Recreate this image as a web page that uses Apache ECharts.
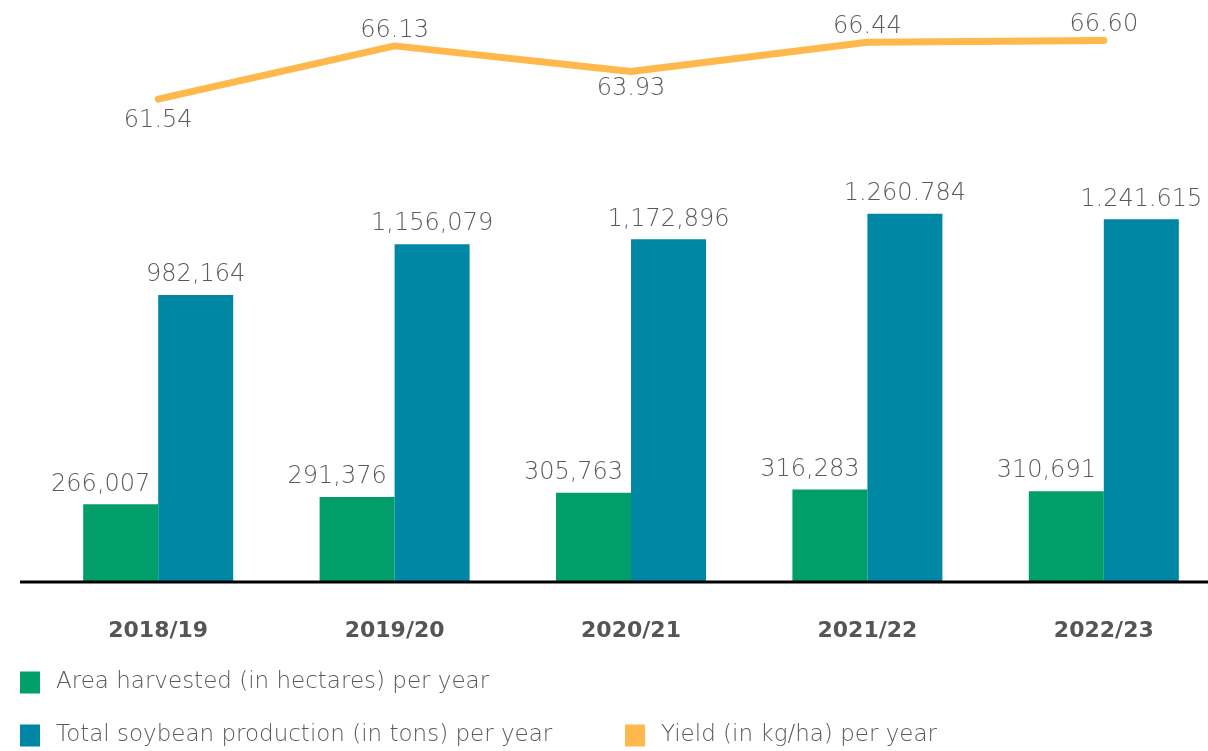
<!DOCTYPE html>
<html>
<head>
<meta charset="utf-8">
<script src="https://cdn.jsdelivr.net/npm/echarts@6/dist/echarts.min.js"></script>
<style>
  html, body { margin: 0; padding: 0; background: #fff; overflow: hidden; width: 1208px; height: 751px; }
  #chart { width: 1240px; height: 751px; }
</style>
</head>
<body>
<div id="chart"></div>
<script>
// data
var seasons = ['2018/19', '2019/20', '2020/21', '2021/22', '2022/23'];
var areaHarvested = [266007, 291376, 305763, 316283, 310691];
var areaText = ['266,007', '291,376', '305,763', '316,283', '310,691'];
var production = [982164, 1156079, 1172896, 1260784, 1241615];
var productionText = ['982,164', '1,156,079', '1,172,896', '1.260.784', '1.241.615'];
var yieldKgHa = [61.54, 66.13, 63.93, 66.44, 66.60];

var green = '#029e69';
var blue = '#0087a5';
var orange = '#ffb84c';
var font = 'DejaVu Sans';
var labelGray = '#5a5a5a';

var myChart = echarts.init(document.getElementById('chart'));

function legendAt(left, top, name) {
    return {
        left: left, top: top, itemWidth: 20, itemHeight: 22, padding: 0,
        icon: 'rect', data: [name], selectedMode: false,
        textStyle: { fontSize: 23, color: labelGray, fontWeight: 300, fontFamily: font, padding: [0, 0, 0, 11] }
    };
}

myChart.setOption({
    animation: false,
    textStyle: { fontFamily: font },
    grid: [
        { left: 40, width: 1182, top: 1, height: 116, outerBoundsMode: 'none' },   // yield line
        { left: 40, width: 1182, top: 173, height: 409, outerBoundsMode: 'none' }  // bars
    ],
    xAxis: [
        { type: 'category', gridIndex: 0, data: seasons, show: false },
        {
            type: 'category', gridIndex: 1, data: seasons,
            axisLine: { show: false },
            axisTick: { show: false },
            axisLabel: {
                margin: 38, fontSize: 22, fontWeight: 'bold',
                color: '#555', fontFamily: font
            }
        }
    ],
    yAxis: [
        { type: 'value', gridIndex: 0, min: 60, max: 70, show: false },
        { type: 'value', gridIndex: 1, min: 0, max: 1400000, show: false }
    ],
    legend: [
        legendAt(20, 671, 'Area harvested (in hectares) per year'),
        legendAt(20, 724, 'Total soybean production (in tons) per year'),
        legendAt(625, 724, 'Yield (in kg/ha) per year')
    ],
    graphic: [
        {
            type: 'line', z: 10,
            shape: { x1: 20, y1: 582, x2: 1208, y2: 582 },
            style: { stroke: '#000', lineWidth: 3 }
        }
    ],
    series: [
        {
            name: 'Area harvested (in hectares) per year',
            type: 'bar', xAxisIndex: 1, yAxisIndex: 1,
            barWidth: 75, barGap: '0%',
            itemStyle: { color: green },
            data: areaHarvested,
            label: {
                show: true, position: 'top', distance: 8, offset: [-20, 0],
                fontSize: 24, fontWeight: 300, color: labelGray, fontFamily: font,
                formatter: function (p) { return areaText[p.dataIndex]; }
            }
        },
        {
            name: 'Total soybean production (in tons) per year',
            type: 'bar', xAxisIndex: 1, yAxisIndex: 1,
            barWidth: 75, barGap: '0%',
            itemStyle: { color: blue },
            data: production,
            label: {
                show: true, position: 'top', distance: 8,
                fontSize: 24, fontWeight: 300, color: labelGray, fontFamily: font,
                formatter: function (p) { return productionText[p.dataIndex]; }
            }
        },
        {
            name: 'Yield (in kg/ha) per year',
            type: 'line', xAxisIndex: 0, yAxisIndex: 0,
            showSymbol: true, symbol: 'circle', symbolSize: 1,
            itemStyle: { color: orange },
            lineStyle: { color: orange, width: 7, cap: 'round', join: 'round' },
            data: yieldKgHa.map(function (v, i) {
                var below = (i === 0 || i === 2);
                return {
                    value: v,
                    label: { position: below ? 'bottom' : 'top', distance: i === 0 ? 9 : (below ? 5 : 3) }
                };
            }),
            label: {
                show: true,
                fontSize: 24, fontWeight: 300, color: labelGray, fontFamily: font,
                formatter: function (p) { return p.value.toFixed(2); }
            }
        }
    ]
});
</script>
</body>
</html>
